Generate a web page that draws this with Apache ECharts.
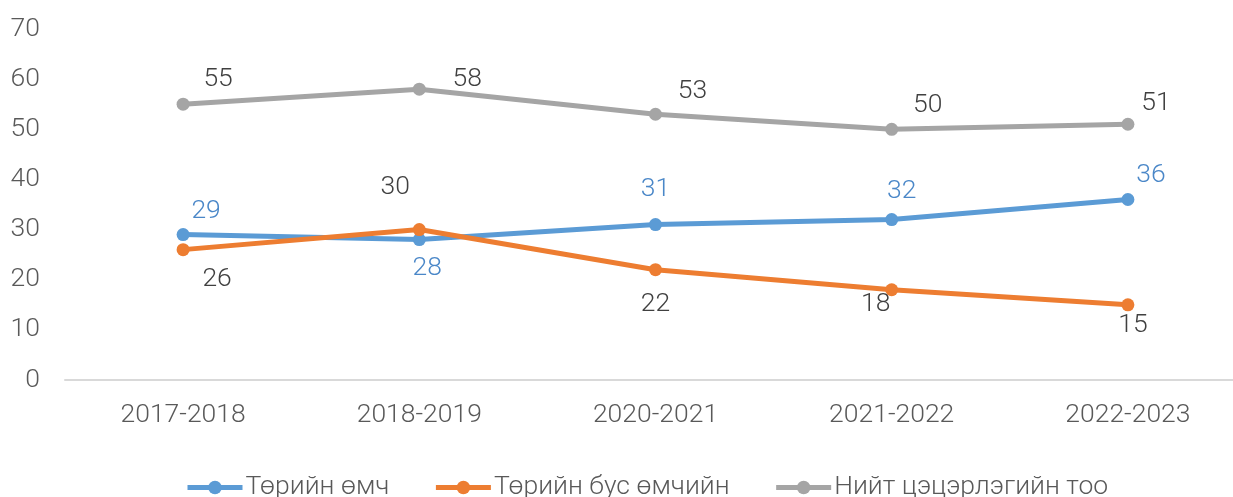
<!DOCTYPE html>
<html>
<head>
<meta charset="utf-8">
<script src="https://cdn.jsdelivr.net/npm/echarts@6/dist/echarts.min.js"></script>
<style>
  html, body { margin: 0; padding: 0; background: #fff; }
  #chart { width: 1233px; height: 497px; }
</style>
</head>
<body>
<div id="chart"></div>
<script>
// data
const years = ['2017-2018', '2018-2019', '2020-2021', '2021-2022', '2022-2023']
const publicVals = [29, 28, 31, 32, 36]      // Төрийн өмч
const privateVals = [26, 30, 22, 18, 15]     // Төрийн бус өмчийн
const totalVals = [55, 58, 53, 50, 51]       // Нийт цэцэрлэгийн тоо
const seriesNames = ['Төрийн өмч', 'Төрийн бус өмчийн', 'Нийт цэцэрлэгийн тоо']

// label placement, Excel style (dx, dy from the point)
const publicOffsets = [[23, -23], [8, 29], [0, -35], [10, -28], [23, -24]]
const privateOffsets = [[34, 30], [-24, -42], [0, 35], [-16, 15], [5, 21]]
const totalOffsets = [[35, -25], [48, -10], [37, -23], [36, -24], [28, -21]]

const font = 'Roboto'
const fs = 26.5
const chart = echarts.init(document.getElementById('chart'))

function points(vals, offsets) {
  return vals.map((v, i) => ({ value: v, label: { offset: offsets[i] } }))
}

function lineSeries(name, color, labelColor, vals, offsets) {
  return {
    name: name,
    type: 'line',
    symbol: 'circle',
    symbolSize: 13,
    lineStyle: { width: 5, color: color },
    itemStyle: { color: color },
    label: {
      show: true,
      position: 'inside',
      align: 'center',
      verticalAlign: 'middle',
      color: labelColor,
      fontFamily: font,
      fontWeight: 300,
      fontSize: fs
    },
    animation: false,
    data: points(vals, offsets)
  }
}

chart.setOption({
  animation: false,
  grid: { left: 65, top: 29, width: 1181, height: 351, outerBoundsMode: 'none', containLabel: false },
  legend: {
    bottom: -9,
    left: 180,
    itemWidth: 55,
    itemHeight: 17,
    itemGap: 44,
    lineStyle: { width: 5 },
    textStyle: { fontFamily: font, fontWeight: 300, fontSize: fs, color: '#595959', padding: [0, 0, 0, -2] },
    data: seriesNames
  },
  xAxis: {
    type: 'category',
    data: years,
    axisLine: { lineStyle: { color: '#d9d9d9', width: 2 } },
    axisTick: { show: false },
    axisLabel: { margin: 22, fontFamily: font, fontWeight: 300, fontSize: fs, color: '#595959' }
  },
  yAxis: {
    type: 'value',
    min: 0,
    max: 70,
    interval: 10,
    splitLine: { show: false },
    axisLine: { show: false },
    axisTick: { show: false },
    axisLabel: { margin: 25, fontFamily: font, fontWeight: 300, fontSize: fs, color: '#595959' }
  },
  series: [
    lineSeries(seriesNames[0], '#5b9bd5', '#4a87c8', publicVals, publicOffsets),
    lineSeries(seriesNames[1], '#ed7d31', '#404040', privateVals, privateOffsets),
    lineSeries(seriesNames[2], '#a5a5a5', '#404040', totalVals, totalOffsets)
  ]
})
</script>
</body>
</html>
